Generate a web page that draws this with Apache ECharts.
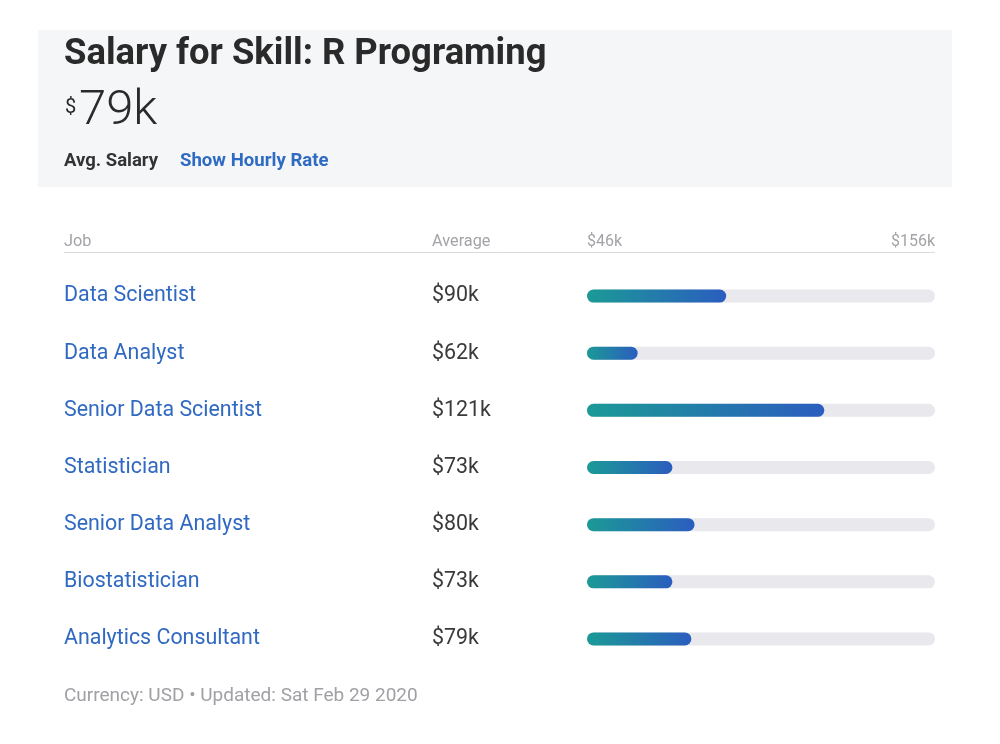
<!DOCTYPE html>
<html>
<head>
<meta charset="utf-8">
<script src="https://cdn.jsdelivr.net/npm/echarts@6/dist/echarts.min.js"></script>
<style>
html,body{margin:0;padding:0;background:#fff;}
#chart{width:1000px;height:744px;}
</style>
</head>
<body>
<div id="chart"></div>
<script>
const jobs = ['Data Scientist','Data Analyst','Senior Data Scientist','Statistician','Senior Data Analyst','Biostatistician','Analytics Consultant'];
const salaries = [90, 62, 121, 73, 80, 73, 79];
const axisMin = 46;
const axisMax = 156;
const tickLabels = ['$46k', '$156k'];
const avgSalary = 79;
const titleText = 'Salary for Skill: R Programing';
const footerText = 'Currency: USD \u2022 Updated: Sat Feb 29 2020';

const FONT = 'Roboto, "Noto Sans", sans-serif';
const chart = echarts.init(document.getElementById('chart'));

const barData = salaries.map((v, i) => [v, i]);

const option = {
  backgroundColor: '#ffffff',
  animation: false,
  textStyle: { fontFamily: FONT },
  grid: { left: 587, right: 65, top: 267.5, height: 400, containLabel: false },
  xAxis: {
    type: 'value',
    position: 'top',
    min: axisMin,
    max: axisMax,
    splitLine: { show: false },
    axisLine: { show: false },
    axisTick: { show: false },
    axisLabel: {
      customValues: [axisMin, axisMax],
      alignMinLabel: 'left',
      alignMaxLabel: 'right',
      margin: 18,
      color: '#a3a3a8',
      fontSize: 16,
      fontFamily: FONT,
      formatter: v => (v === axisMin ? tickLabels[0] : tickLabels[1])
    }
  },
  yAxis: [{
    type: 'category',
    data: jobs,
    inverse: true,
    axisLine: { show: false },
    axisTick: { show: false },
    axisLabel: {
      align: 'left',
      margin: 523,
      color: '#3069c2',
      fontSize: 21.4,
      fontFamily: FONT
    }
  }, {
    type: 'category',
    data: salaries.map(v => '$' + v + 'k'),
    inverse: true,
    position: 'left',
    axisLine: { show: false },
    axisTick: { show: false },
    axisLabel: {
      align: 'left',
      margin: 155,
      color: '#3a3a3a',
      fontSize: 21.4,
      fontFamily: FONT
    }
  }],
  graphic: [
    { type: 'rect', shape: { x: 38, y: 30, width: 914, height: 157 }, style: { fill: '#f5f6f8' }, z: -10 },
    { type: 'text', style: { x: 64, y: 54.5, text: titleText, font: 'bold 36.4px ' + FONT, fill: '#2a2a2a', verticalAlign: 'middle' } },
    { type: 'text', style: { x: 65, y: 108, text: '$', font: '20px ' + FONT, fill: '#2a2a2a', verticalAlign: 'middle' } },
    { type: 'text', style: { x: 79, y: 112, text: avgSalary + 'k', font: '300 49px ' + FONT, fill: '#2a2a2a', verticalAlign: 'middle' } },
    { type: 'text', style: { x: 64, y: 161, text: 'Avg. Salary', font: 'bold 18.5px ' + FONT, fill: '#333333', verticalAlign: 'middle' } },
    { type: 'text', style: { x: 180, y: 161, text: 'Show Hourly Rate', font: 'bold 18.6px ' + FONT, fill: '#2f6bc3', verticalAlign: 'middle' } },
    { type: 'text', style: { x: 64, y: 241.5, text: 'Job', font: '16.3px ' + FONT, fill: '#a3a3a8', verticalAlign: 'middle' } },
    { type: 'text', style: { x: 432, y: 241.5, text: 'Average', font: '16.3px ' + FONT, fill: '#a3a3a8', verticalAlign: 'middle' } },
    { type: 'line', shape: { x1: 64, y1: 252.5, x2: 935, y2: 252.5 }, style: { stroke: '#d9d9de', lineWidth: 1 } },
    { type: 'text', style: { x: 64, y: 696, text: footerText, font: '19px ' + FONT, fill: '#a0a0a5', verticalAlign: 'middle' } }
  ],
  series: [{
    type: 'custom',
    coordinateSystem: 'cartesian2d',
    encode: { x: 0, y: 1 },
    data: barData,
    renderItem: function (params, api) {
      const v = api.value(0);
      const idx = api.value(1);
      const start = api.coord([axisMin, idx]);
      const end = api.coord([v, idx]);
      const trackEnd = api.coord([axisMax, idx]);
      const h = 13;
      return {
        type: 'group',
        children: [
          { type: 'rect', shape: { x: start[0], y: start[1] - h / 2, width: trackEnd[0] - start[0], height: h, r: h / 2 }, style: { fill: '#e8e8ed' } },
          { type: 'rect', shape: { x: start[0], y: start[1] - h / 2, width: end[0] - start[0], height: h, r: h / 2 },
            style: { fill: new echarts.graphic.LinearGradient(0, 0, 1, 0, [{ offset: 0, color: '#1b9a96' }, { offset: 1, color: '#2b5dbf' }]) } }
        ]
      };
    }
  }]
};
chart.setOption(option);
</script>
</body>
</html>
